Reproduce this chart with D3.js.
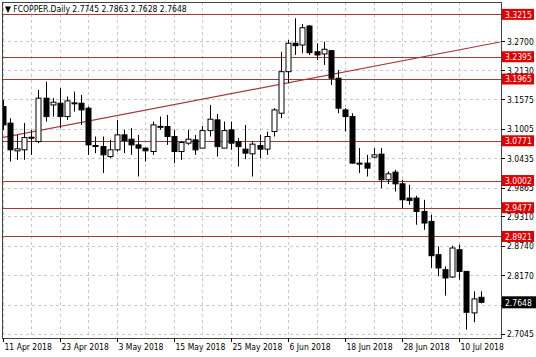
<!DOCTYPE html>
<html>
<head>
<meta charset="utf-8">
<script src="https://cdn.jsdelivr.net/npm/d3@7/dist/d3.min.js"></script>
<style>
html,body{margin:0;padding:0;background:#fff;}
svg{display:block;}
text{font-family:"DejaVu Sans Condensed","DejaVu Sans",sans-serif;}
</style>
</head>
<body>
<script>
// ---- data ----
const dates = [
 "11 Apr","12 Apr","13 Apr","16 Apr","17 Apr","18 Apr","19 Apr","20 Apr","23 Apr","24 Apr","25 Apr","26 Apr","27 Apr","30 Apr",
 "1 May","2 May","3 May","4 May","7 May","8 May","9 May","10 May","11 May","14 May","15 May","16 May","17 May","18 May","21 May","22 May","23 May","24 May","25 May","28 May","29 May","30 May","31 May",
 "1 Jun","4 Jun","5 Jun","6 Jun","7 Jun","8 Jun","11 Jun","12 Jun","13 Jun","14 Jun","15 Jun","18 Jun","19 Jun","20 Jun","21 Jun","22 Jun","25 Jun","26 Jun","27 Jun","28 Jun","29 Jun",
 "2 Jul","3 Jul","4 Jul","5 Jul","6 Jul","9 Jul","10 Jul","11 Jul","12 Jul","13 Jul"];
const open  = [3.1432,3.1111,3.0576,3.0596,3.0840,3.0756,3.1594,3.1464,3.1497,3.1239,3.1497,3.1497,3.1401,3.0680,3.0659,3.0466,3.0596,3.0885,3.0802,3.0692,3.0629,3.0563,3.1040,3.1046,3.0853,3.0563,3.0725,3.0789,3.0629,3.0968,3.1175,3.0629,3.0982,3.0756,3.0609,3.0519,3.0679,3.0609,3.0949,3.1304,3.2107,3.2656,3.2623,3.2990,3.2493,3.2449,3.2513,3.1980,3.1368,3.1239,3.0339,3.0339,3.0455,3.0513,3.0017,3.0165,2.9939,2.9663,2.9663,2.9405,2.9212,2.8569,2.8279,2.8138,2.8665,2.8246,2.7443,2.7745];
const high  = [3.1561,3.1208,3.0885,3.1117,3.0982,3.1754,3.1914,3.1594,3.1787,3.1625,3.1721,3.1658,3.1432,3.0853,3.0853,3.0789,3.1175,3.0982,3.1015,3.0885,3.0640,3.1142,3.1239,3.1271,3.0982,3.0769,3.0982,3.0885,3.1059,3.1464,3.1291,3.1142,3.1142,3.0822,3.1078,3.0756,3.0885,3.0949,3.1401,3.2493,3.2719,3.3138,3.3028,3.3009,3.2656,3.2686,3.2526,3.2140,3.1401,3.1304,3.0629,3.0499,3.0629,3.0629,3.0177,3.0210,3.0017,2.9920,2.9708,2.9630,2.9341,2.8729,2.8343,2.8742,2.8762,2.8250,2.7860,2.7863];
const low   = [3.0982,3.0370,3.0403,3.0403,3.0499,3.0725,3.1142,3.1239,3.1015,3.1175,3.1335,3.1078,3.0499,3.0532,3.0146,3.0436,3.0563,3.0532,3.0499,3.0080,3.0370,3.0499,3.0982,3.0692,3.0339,3.0403,3.0692,3.0499,3.0629,3.0853,3.0466,3.0629,3.0596,3.0273,3.0416,3.0080,3.0436,3.0499,3.0853,3.1208,3.1883,3.2430,3.2463,3.2430,3.2333,3.2237,3.1851,3.1304,3.0949,3.0330,3.0146,3.0080,3.0436,2.9856,2.9934,2.9791,2.9470,2.9534,2.9148,2.9051,2.8312,2.8150,2.7777,2.8119,2.8086,2.7121,2.7262,2.7628];
const close = [3.1078,3.0596,3.0615,3.0833,3.0825,3.1594,3.1239,3.1517,3.1239,3.1542,3.1505,3.1368,3.0692,3.0668,3.0499,3.0596,3.0885,3.0775,3.0692,3.0629,3.0577,3.1078,3.1050,3.0853,3.0563,3.0737,3.0802,3.0596,3.0968,3.1188,3.0659,3.0968,3.0725,3.0659,3.0532,3.0706,3.0609,3.0853,3.1368,3.2107,3.2656,3.2609,3.2957,3.2474,3.2430,3.2540,3.1980,3.1401,3.1239,3.0339,3.0330,3.0242,3.0499,3.0017,3.0132,2.9939,2.9630,2.9617,2.9405,2.9181,2.8549,2.8312,2.8119,2.8698,2.8246,2.7455,2.7714,2.7648];
const gridPrices = [3.2700,3.2130,3.1575,3.1005,3.0435,2.9865,2.9310,2.8740,2.8170,2.7600,2.7045];
const tickLabels = ["3.2700","3.2130","3.1575","3.1005","3.0435","2.9865","2.9310","2.8740","2.8170","2.7045"];
const levels = [3.3215,3.2395,3.1965,3.0771,3.0002,2.9477,2.8921];
const lastPrice = 2.7648;
const dateLabels = ["11 Apr 2018","23 Apr 2018","3 May 2018","15 May 2018","25 May 2018","6 Jun 2018","18 Jun 2018","28 Jun 2018","10 Jul 2018"];
const dateLabelBars = ["11 Apr","23 Apr","3 May","15 May","25 May","6 Jun","18 Jun","28 Jun","10 Jul"];
const trendStart = {bar:-0.4, price:3.0823};
const trendEnd   = {bar:69.7, price:3.2680};
const title = "\u25BC FCOPPER.Daily  2.7745 2.7863 2.7628 2.7648";

// ---- layout ----
const W = 536, H = 357;
const L = 2, T = 2, R = 501, B = 338;
const svg = d3.select("body").append("svg").attr("width", W).attr("height", H);

const x = d3.scaleLinear().domain([0, dates.length - 1]).range([2.7, 480.7]);
const y = d3.scaleLinear().domain([2.7045, 3.2700]).range([333.5, 41]);

svg.append("defs").append("clipPath").attr("id","clip")
  .append("rect").attr("x", L).attr("y", T).attr("width", R - L).attr("height", B - T);

const plot = svg.append("g").attr("clip-path","url(#clip)");

// grid
const gridColor = "#c8c8c8";
plot.selectAll("line.hg").data(gridPrices).enter().append("line")
  .attr("x1", L).attr("x2", R)
  .attr("y1", d => Math.round(y(d)) + 0.5).attr("y2", d => Math.round(y(d)) + 0.5)
  .attr("stroke", gridColor).attr("stroke-dasharray", "3,3").attr("stroke-width", 1);
const vgrid = d3.range(0, dates.length, 4);
plot.selectAll("line.vg").data(vgrid).enter().append("line")
  .attr("x1", d => Math.round(x(d)) + 0.5).attr("x2", d => Math.round(x(d)) + 0.5)
  .attr("y1", T).attr("y2", B)
  .attr("stroke", gridColor).attr("stroke-dasharray", "3,3").attr("stroke-width", 1);

// levels
const lvlColor = "#a33a3a";
plot.selectAll("line.lv").data(levels).enter().append("line")
  .attr("x1", L).attr("x2", R)
  .attr("y1", d => Math.round(y(d)) + 0.5).attr("y2", d => Math.round(y(d)) + 0.5)
  .attr("stroke", lvlColor).attr("stroke-width", 1.2);

// trendline
plot.append("line")
  .attr("x1", x(trendStart.bar)).attr("y1", y(trendStart.price))
  .attr("x2", x(trendEnd.bar)).attr("y2", y(trendEnd.price))
  .attr("stroke", lvlColor).attr("stroke-width", 1.2);

// candles
const bw = 5;
const candles = plot.selectAll("g.c").data(dates.map((d, i) => i)).enter().append("g");
candles.append("line")
  .attr("x1", i => Math.round(x(i)) + 0.5).attr("x2", i => Math.round(x(i)) + 0.5)
  .attr("y1", i => y(high[i])).attr("y2", i => y(low[i]))
  .attr("stroke", "#000").attr("stroke-width", 1);
candles.append("rect")
  .attr("x", i => Math.round(x(i)) - 2)
  .attr("width", bw)
  .attr("y", i => Math.min(y(open[i]), y(close[i])))
  .attr("height", i => Math.max(1, Math.abs(y(open[i]) - y(close[i]))))
  .attr("fill", i => close[i] >= open[i] ? "#fff" : "#000")
  .attr("stroke", "#000").attr("stroke-width", 1);

// frame
svg.append("rect").attr("x", L + 0.5).attr("y", T + 0.5).attr("width", R - L).attr("height", B - T)
  .attr("fill", "none").attr("stroke", "#444").attr("stroke-width", 1);

// title
svg.append("text").attr("x", 5).attr("y", 12).attr("font-size", "8.5px").attr("fill", "#000").text(title);

// right axis labels
const fs = "8.5px";
const ax = svg.append("g");
ax.selectAll("line.rt").data(gridPrices).enter().append("line")
  .attr("x1", R).attr("x2", R + 4)
  .attr("y1", d => Math.round(y(d)) + 0.5).attr("y2", d => Math.round(y(d)) + 0.5)
  .attr("stroke", "#000");
ax.selectAll("text.rt").data(tickLabels).enter().append("text")
  .attr("x", R + 6).attr("y", d => y(+d) + 3.5)
  .attr("font-size", fs).attr("fill", "#000").text(d => d);

// level labels
const lbl = ax.selectAll("g.ll").data(levels).enter().append("g");
lbl.append("rect").attr("x", R + 1).attr("y", d => y(d) - 5.5).attr("width", 32).attr("height", 11).attr("fill", "#e00000");
lbl.append("text").attr("x", R + 4).attr("y", d => y(d) + 3.2).attr("font-size", fs).attr("fill", "#fff").text(d => d.toFixed(4));

// last price label
ax.append("rect").attr("x", R + 1).attr("y", y(lastPrice) - 6).attr("width", 35).attr("height", 12).attr("fill", "#000");
ax.append("text").attr("x", R + 4).attr("y", y(lastPrice) + 3.5).attr("font-size", fs).attr("fill", "#fff").text(lastPrice.toFixed(4));

// bottom axis labels
const bx = svg.append("g");
dateLabels.forEach((lab, k) => {
  const i = dates.indexOf(dateLabelBars[k]);
  const xp = Math.round(x(i)) + 0.5;
  bx.append("line").attr("x1", xp).attr("x2", xp).attr("y1", B).attr("y2", B + 4).attr("stroke", "#000");
  bx.append("text").attr("x", xp + 1).attr("y", B + 12).attr("font-size", fs).attr("fill", "#000").text(lab);
});
</script>
</body>
</html>
